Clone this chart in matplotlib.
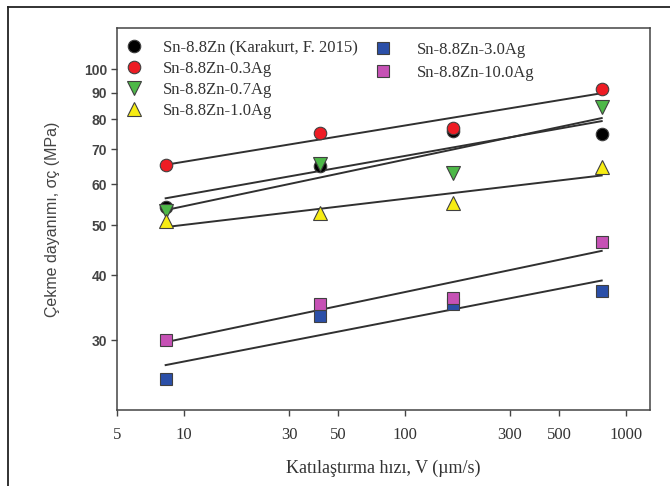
import numpy as np
import matplotlib
matplotlib.use('Agg')
import matplotlib.pyplot as plt
from matplotlib.ticker import FixedLocator, NullLocator, FixedFormatter
from matplotlib.lines import Line2D

# solidification rate (um/s)
V = [8.3, 41.5, 166, 780]

# tensile strength (MPa)
sn_zn     = [54.2, 64.9, 76.1, 75.0]
ag_0_3    = [65.2, 75.2, 77.1, 91.6]
ag_0_7    = [53.3, 65.6, 63.0, 84.4]
ag_1_0    = [51.0, 52.7, 55.1, 64.7]
ag_3_0    = [25.2, 33.4, 35.3, 37.3]
ag_10_0   = [30.0, 35.2, 36.1, 46.4]

labels = ['Sn-8.8Zn (Karakurt, F. 2015)', 'Sn-8.8Zn-0.3Ag', 'Sn-8.8Zn-0.7Ag',
          'Sn-8.8Zn-1.0Ag', 'Sn-8.8Zn-3.0Ag', 'Sn-8.8Zn-10.0Ag']
xticks = [5, 10, 30, 50, 100, 300, 500, 1000]
yticks = [30, 40, 50, 60, 70, 80, 90, 100]

series = [sn_zn, ag_0_3, ag_0_7, ag_1_0, ag_3_0, ag_10_0]
markers = ['o', 'o', 'v', '^', 's', 's']
colors = ['#000000', '#ee1c24', '#4db848', '#f7ec13', '#2b4fa8', '#c651b5']
sizes = [9, 9, 9.5, 9.5, 8, 8]

serif = 'Liberation Serif'
sans = 'Liberation Sans'
txt = '#333333'

fig = plt.figure(figsize=(6.7, 4.86), dpi=100)
# outer frame (left and top edges only visible)
fig.lines.append(Line2D([8/670, 8/670], [0, 1 - 7/486], transform=fig.transFigure,
                        color='#222222', lw=1.3))
fig.lines.append(Line2D([8/670, 1], [1 - 7/486, 1 - 7/486], transform=fig.transFigure,
                        color='#222222', lw=1.3))
ax = fig.add_axes([117/670, 1 - 410/486, 533/670, 382/486])

handles = []
for y, m, c, s, lab in zip(series, markers, colors, sizes, labels):
    # power law fit in log-log
    p = np.polyfit(np.log10(V), np.log10(y), 1)
    xf = np.array([V[0], V[-1]])
    ax.plot(xf, 10**np.polyval(p, np.log10(xf)), '-', color='#303030', lw=1.4, zorder=2)
    h, = ax.plot(V, y, linestyle='none', marker=m, color=c, markersize=s,
                 markeredgecolor='#404040', markeredgewidth=0.8, label=lab, zorder=3)
    handles.append(h)

ax.set_xscale('log')
ax.set_yscale('log')
ax.set_xlim(5, 1290)
ax.set_ylim(22, 120)

ax.xaxis.set_major_locator(FixedLocator(xticks))
ax.xaxis.set_major_formatter(FixedFormatter([str(t) for t in xticks]))
ax.xaxis.set_minor_locator(NullLocator())
ax.yaxis.set_major_locator(FixedLocator(yticks))
ax.yaxis.set_major_formatter(FixedFormatter([str(t) for t in yticks]))
ax.yaxis.set_minor_locator(NullLocator())

ax.tick_params(axis='both', direction='out', length=4, width=1, color='#444444')
for t in ax.get_xticklabels():
    t.set_fontfamily(serif)
    t.set_fontsize(12)
    t.set_color(txt)
for t in ax.get_yticklabels():
    t.set_fontfamily(sans)
    t.set_fontsize(10)
    t.set_fontweight('bold')
    t.set_color('#444444')
ax.tick_params(axis='x', pad=8)
ax.tick_params(axis='y', pad=3)

for sp in ax.spines.values():
    sp.set_color('#444444')
    sp.set_linewidth(1.1)

ax.set_xlabel('Katılaştırma hızı, V (µm/s)', fontfamily=serif, fontsize=13, color=txt, labelpad=12)
ax.set_ylabel('Çekme dayanımı, σç (MPa)', fontfamily=sans, fontsize=11.5, color='#444444', labelpad=17)

leg1 = ax.legend(handles=handles[:4], loc='upper left', bbox_to_anchor=(-0.005, 1.0), frameon=False,
                 prop={'family': serif, 'size': 12}, handlelength=1.0, handletextpad=1.2,
                 labelspacing=0.3, borderaxespad=0.3)
for t in leg1.get_texts():
    t.set_color(txt)
ax.add_artist(leg1)
leg2 = ax.legend(handles=handles[4:], loc='upper left', bbox_to_anchor=(0.462, 0.995), frameon=False,
                 prop={'family': serif, 'size': 12}, handlelength=1.0, handletextpad=1.5,
                 labelspacing=0.42, borderaxespad=0.3)
for t in leg2.get_texts():
    t.set_color(txt)

plt.savefig('out.png', dpi=100)
